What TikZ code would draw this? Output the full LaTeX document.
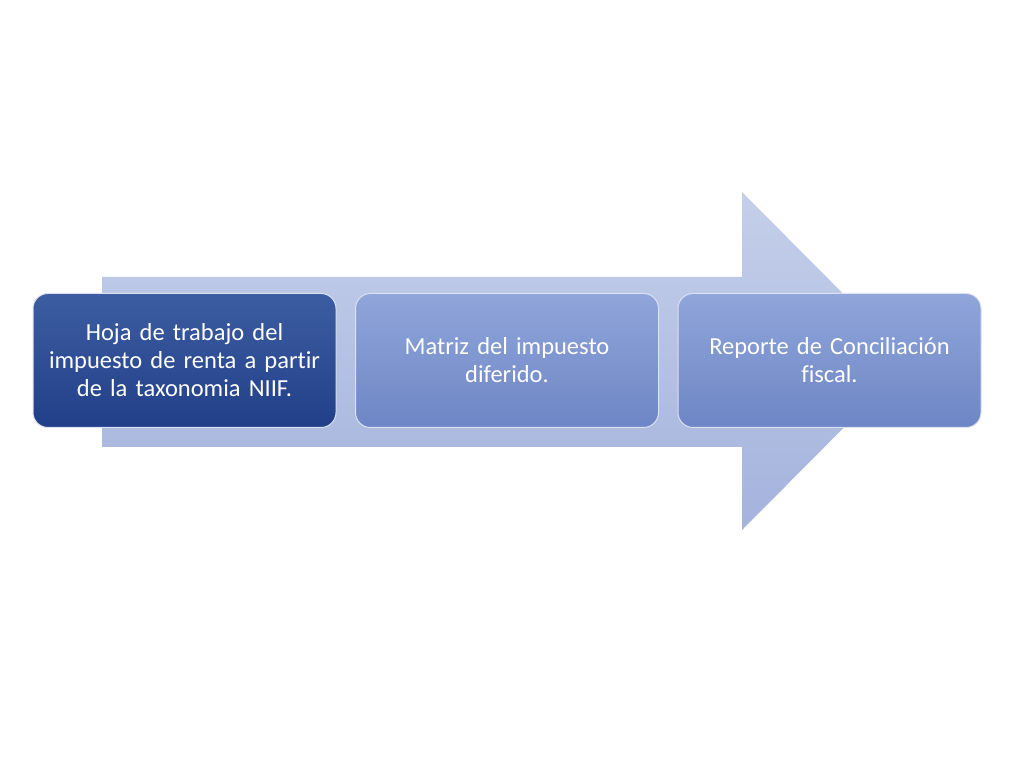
\documentclass[tikz,border=0pt]{standalone}
\usepackage{fontspec}
\setmainfont[Ligatures=NoCommon]{Carlito}
\usetikzlibrary{positioning,shadings}
\definecolor{arrowtop}{HTML}{C5CFEA}
\definecolor{arrowbot}{HTML}{A4B3DD}
\definecolor{darktop}{HTML}{3D5DA2}
\definecolor{darkbot}{HTML}{213F88}
\definecolor{midtop}{HTML}{90A5D9}
\definecolor{midbot}{HTML}{6E86C6}

\begin{document}
\begin{tikzpicture}[
    x=1pt, y=1pt,
    node distance = 18.5pt,
    stepbox/.style = {rounded corners=15pt, draw=white!75!midbot, line width=1pt,
      minimum width=303pt, minimum height=134pt, text width=295pt, align=center,
      text=white, font=\fontsize{24.5}{28}\selectfont, top color=midtop, bottom color=midbot}]
    \useasboundingbox (0,0) rectangle (1024,768);
    % BIG ARROW
    \shade[top color=arrowtop, bottom color=arrowbot]
      (102,491) -- (742,491) -- (742,576) -- (910,407) -- (742,238)
      -- (742,321) -- (102,321) -- cycle;
    % NODES
    % first step
    \node[stepbox, top color=darktop, bottom color=darkbot] (hoja) at (184.5,407.5)
      {Hoja de trabajo del\\impuesto de renta a partir\\de la taxonomia NIIF.};
    % second step
    \node[stepbox, right = of hoja] (matriz)
      {Matriz del impuesto\\diferido.};
    % third step
    \node[stepbox, right = of matriz] (reporte)
      {Reporte de Conciliación\\fiscal.};
\end{tikzpicture}
\end{document}
